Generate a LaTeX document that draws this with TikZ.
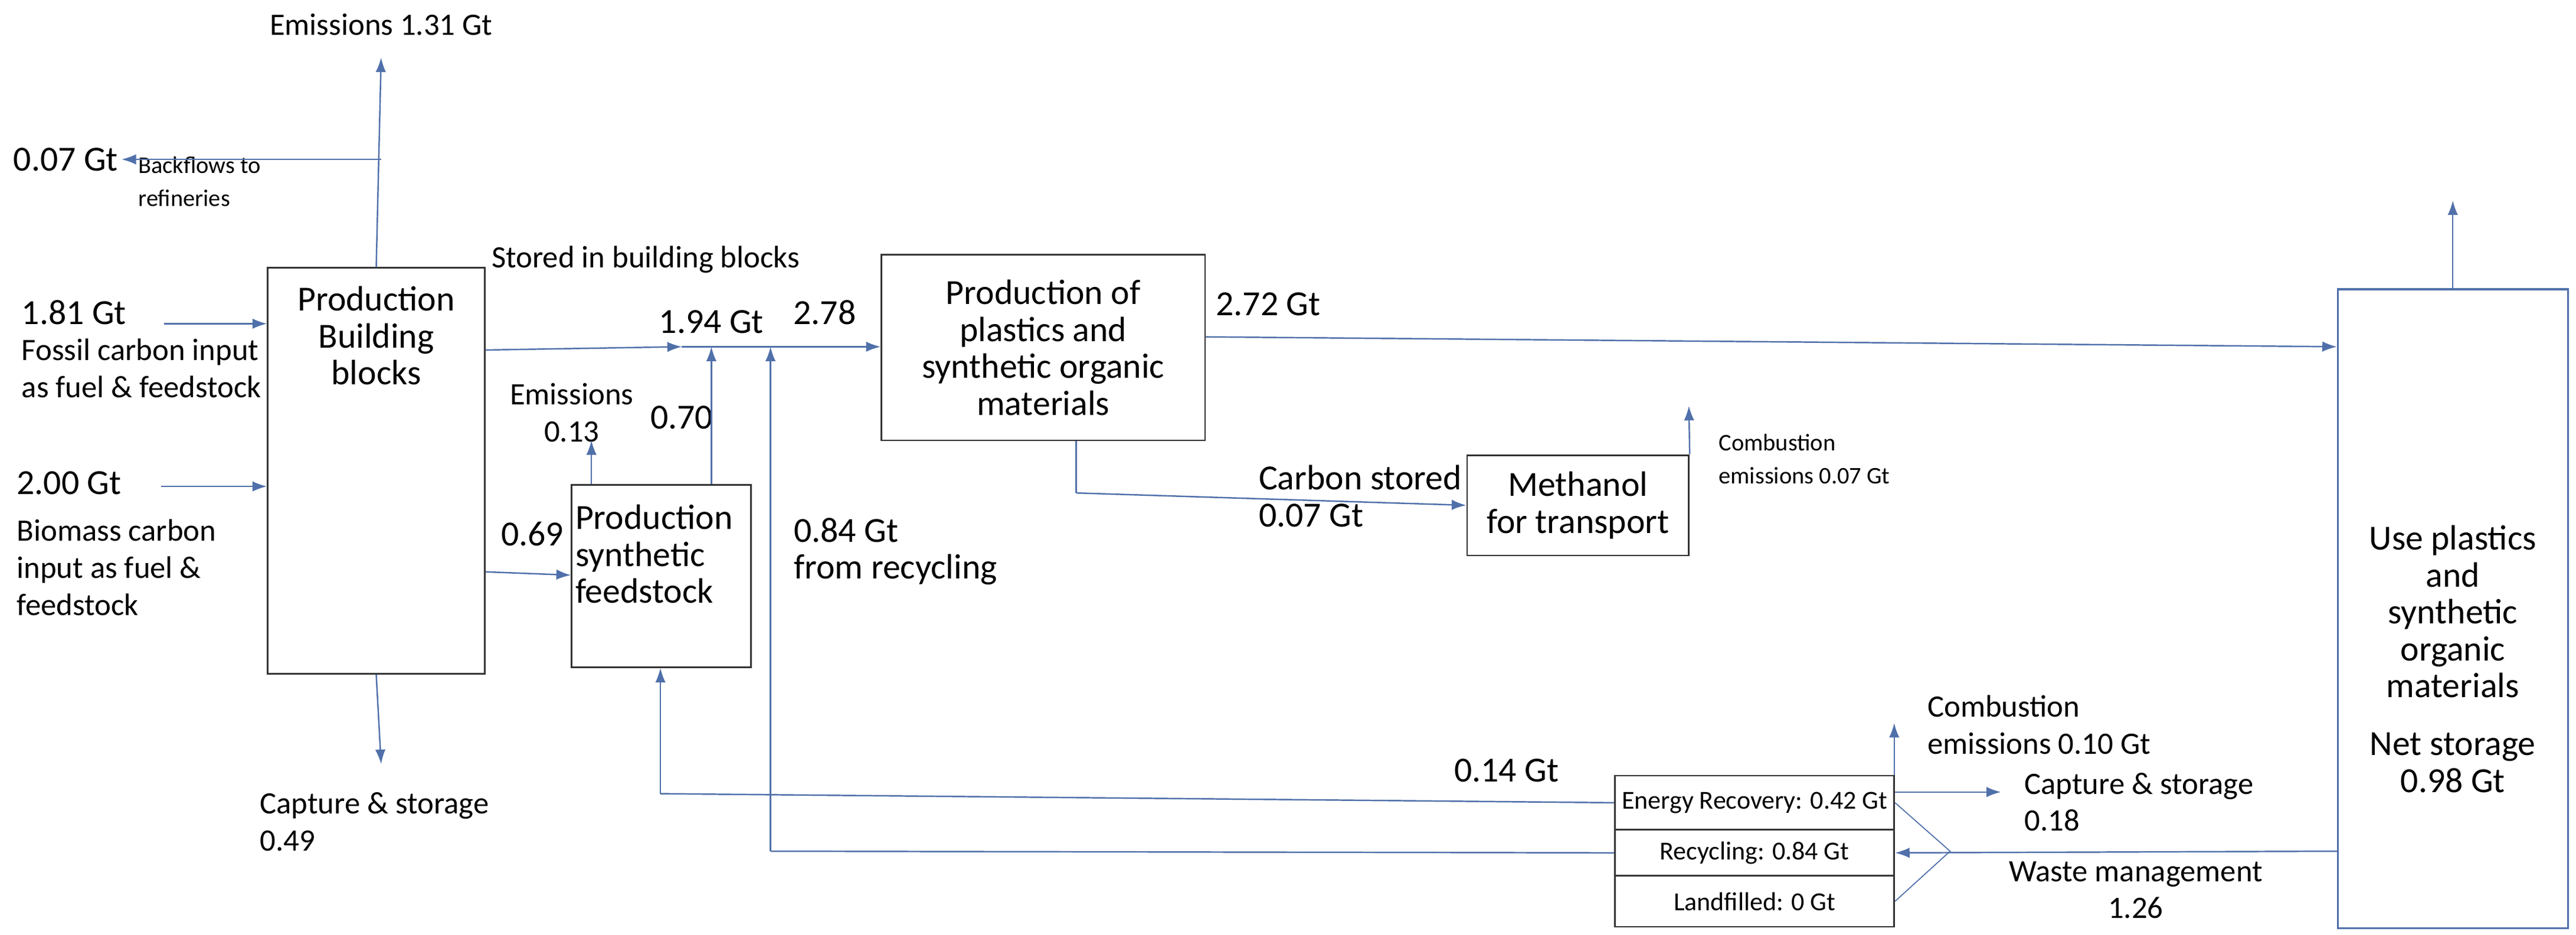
\documentclass[tikz,border=0pt]{standalone}
\usepackage{fontspec}
\setmainfont{Carlito}
\usetikzlibrary{arrows.meta}
\definecolor{ln}{RGB}{80,112,170}
\begin{document}
\begin{tikzpicture}[x=0.02784cm,y=-0.02784cm,
  fl/.style={draw=ln,line width=0.7pt,-{Latex[length=7pt,width=5pt]}},
  pl/.style={draw=ln,line width=0.7pt},
  box/.style={draw=black!80,line width=0.8pt,inner sep=0pt},
  txt/.style={font=\fontsize{15}{17.8}\selectfont,inner sep=0pt,align=left},
  sm/.style={font=\fontsize{12.5}{17}\selectfont,inner sep=0pt,align=left},
  ti/.style={font=\fontsize{11.5}{16}\selectfont,inner sep=0pt,align=left},
  bx/.style={font=\fontsize{17}{17.8}\selectfont,align=center}]
\useasboundingbox (0,0) rectangle (1568,569);
% boxes
\node[box,minimum width=132*0.02784cm,minimum height=247*0.02784cm] (bb) at (229,286.5) {};
\node[bx,inner sep=0pt,anchor=north] (bbt) at (229,174) {Production\\Building\\blocks};
\node[box,minimum width=109*0.02784cm,minimum height=111*0.02784cm] (sf) at (402.5,350.5) {};
\node[bx,inner sep=0pt,align=left,anchor=north west] (sft) at (350,307) {Production\\synthetic\\feedstock};
\node[box,minimum width=197*0.02784cm,minimum height=113*0.02784cm,bx] (pl) at (635,211.5) {Production of\\plastics and\\synthetic organic\\materials};
\node[box,minimum width=135*0.02784cm,minimum height=61*0.02784cm,bx] (me) at (960.5,307.5) {Methanol\\for transport};
\node[draw=ln,line width=0.9pt,minimum width=140*0.02784cm,minimum height=389*0.02784cm,inner sep=0pt] (use) at (1493,370.5) {};
\node[bx] (uset) at (1493,401) {Use plastics\\and\\synthetic\\organic\\materials\\[10pt]Net storage\\0.98 Gt};
\node[box,minimum width=170*0.02784cm,minimum height=33*0.02784cm,sm] (er) at (1068,488.5) {Energy Recovery: 0.42 Gt};
\node[box,minimum width=170*0.02784cm,minimum height=28*0.02784cm,sm] (rc) at (1068,519) {Recycling: 0.84 Gt};
\node[box,minimum width=170*0.02784cm,minimum height=31*0.02784cm,sm] (lf) at (1068,548.5) {Landfilled: 0 Gt};
% labels
\node[txt] (e131) at (232,15) {Emissions 1.31 Gt};
\node[bx,inner sep=0pt] (g007) at (40,97) {0.07 Gt};
\node[ti,anchor=north west] (bf) at (84,95) {Backflows to\\refineries};
\node[txt,anchor=west] (sib) at (299,158) {Stored in building blocks};
\node[bx,inner sep=0pt,anchor=west] (g181) at (13,190) {1.81 Gt};
\node[txt,anchor=north west] (fos) at (13,206) {Fossil carbon input\\as fuel \& feedstock};
\node[bx,inner sep=0pt,anchor=west] (g200) at (10,294) {2.00 Gt};
\node[txt,anchor=north west] (bio) at (10,316) {Biomass carbon\\input as fuel \&\\feedstock};
\node[txt,anchor=north west] (cap049) at (158,482) {Capture \& storage\\0.49};
\node[bx,inner sep=0pt] (g194) at (433,196) {1.94 Gt};
\node[bx,inner sep=0pt] (g278) at (502,190) {2.78};
\node[txt,align=center,anchor=north] (e013) at (348,233) {Emissions\\0.13};
\node[bx,inner sep=0pt] (g070) at (415,254) {0.70};
\node[bx,inner sep=0pt] (g069) at (324,325) {0.69};
\node[bx,inner sep=0pt,align=left,anchor=north west] (g084) at (483,315) {0.84 Gt\\from recycling};
\node[bx,inner sep=0pt] (g272) at (772,185) {2.72 Gt};
\node[bx,inner sep=0pt,align=left,anchor=north west] (cs) at (766,283) {Carbon stored\\0.07 Gt};
\node[ti,anchor=north west] (ce007) at (1046,264) {Combustion\\emissions 0.07 Gt};
\node[bx,inner sep=0pt] (g014) at (917,469) {0.14 Gt};
\node[txt,anchor=north west] (ce010) at (1173,423) {Combustion\\emissions 0.10 Gt};
\node[txt,anchor=north west] (cap018) at (1232,470) {Capture \& storage\\0.18};
\node[txt,align=center,anchor=north] (wm) at (1300,524) {Waste management\\1.26};
% coordinates
\coordinate (bl) at (232,97);
\coordinate (e131a) at (232,35);
\coordinate (bfa) at (74,97);
\coordinate (in1) at (100,197);
\coordinate (in2) at (98,296);
\coordinate (j1) at (415,211);
\coordinate (j2) at (433,211);
\coordinate (j3) at (469,211);
\coordinate (cap049a) at (232,465);
\coordinate (e013a) at (360,268);
\coordinate (pd) at (655,300);
\coordinate (me7a) at (1028,247);
\coordinate (usea) at (1493,122);
\coordinate (er1) at (402,483);
\coordinate (rc1) at (469,518);
\coordinate (ce10a) at (1153,440);
\coordinate (cap18a) at (1218,482);
\coordinate (fan) at (1187,518);
% connectors
\draw[fl] (bb.north) -- (e131a);
\draw[fl] (bl) -- (bfa);
\draw[fl] (in1) -- (bb.west |- in1);
\draw[fl] (in2) -- (bb.west |- in2);
\draw[fl] (bb.south) -- (cap049a);
\draw[fl] (bb.east |- 0,213) -- (j1);
\draw[fl] (j1) -- (pl.west |- j1);
\draw[fl] (sf.north -| j2) -- (j2);
\draw[fl] (sf.north -| e013a) -- (e013a);
\draw[fl] (bb.east |- 0,348) -- (sf.west |- 0,350);
\draw[pl] (er.west) -- (er1);
\draw[fl] (er1) -- (er1 |- sf.south);
\draw[pl] (rc.west) -- (rc1);
\draw[fl] (rc1) -- (j3);
\draw[fl] (pl.east |- 0,205) -- (use.west |- 0,211);
\draw[pl] (pl.south -| pd) -- (pd);
\draw[fl] (pd) -- (me.west);
\draw[fl] (me.north east) -- (me7a);
\draw[fl] (use.north) -- (usea);
\draw[fl] (ce10a |- er.north) -- (ce10a);
\draw[fl] (er.east |- cap18a) -- (cap18a);
\draw[fl] (use.west |- fan) -- (rc.east);
\draw[pl,line width=0.5pt] (er.east) -- (fan) -- (lf.east);
\end{tikzpicture}
\end{document}
